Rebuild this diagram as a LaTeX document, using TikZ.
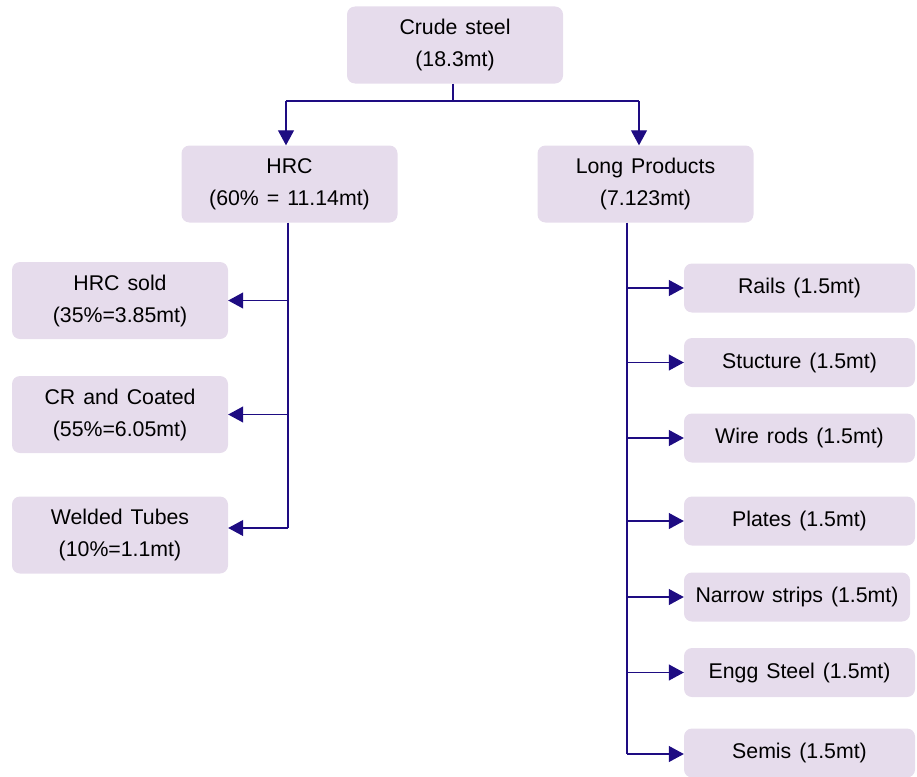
\documentclass[tikz,border=0pt]{standalone}
\usepackage{fontspec}
\setmainfont{Liberation Sans}[WordSpace=1.35]
\usetikzlibrary{arrows.meta}
\definecolor{boxfill}{HTML}{E6DCEC}
\definecolor{linec}{HTML}{1E0C82}
\begin{document}
\begin{tikzpicture}[x=1pt,y=-1pt,
  box/.style={fill=boxfill, rounded corners=8pt, align=center, inner sep=0pt,
    font=\fontsize{21.3}{32}\selectfont},
  bigbox/.style={box, minimum width=216pt, minimum height=77pt},
  smallbox/.style={box, minimum width=231pt, minimum height=49pt},
  conn/.style={draw=linec, line width=1.1pt},
  arr/.style={conn, -{Triangle[length=15pt,width=16pt]}}]
\useasboundingbox (0,0) rectangle (917,776);

\node[bigbox] (crude) at (455,45) {Crude steel\\(18.3mt)};
\node[bigbox] (hrc) at (289.5,184) {HRC\\(60\% = 11.14mt)};
\node[bigbox] (lp) at (645.5,184) {Long Products\\(7.123mt)};

\node[bigbox] (sold) at (120,300.5) {HRC sold\\(35\%=3.85mt)};
\node[bigbox] (cr) at (120,414.5) {CR and Coated\\(55\%=6.05mt)};
\node[bigbox] (tubes) at (120,535) {Welded Tubes\\(10\%=1.1mt)};

\node[smallbox] (rails) at (799.5,288) {Rails (1.5mt)};
\node[smallbox] (stuct) at (799.5,362.5) {Stucture (1.5mt)};
\node[smallbox] (wire) at (799.5,438) {Wire rods (1.5mt)};
\node[smallbox] (plates) at (799.5,521) {Plates (1.5mt)};
\node[smallbox, minimum width=226pt] (narrow) at (797,597) {Narrow strips (1.5mt)};
\node[smallbox] (engg) at (799.5,672.5) {Engg Steel (1.5mt)};
\node[smallbox] (semis) at (799.5,753) {Semis (1.5mt)};

% top split
\coordinate (jl) at (286,101);
\coordinate (jr) at (639,101);
\draw[conn] (crude.south -| 453,0) -- (453,101);
\draw[conn] (jl) -- (jr);
\draw[arr] (jl) -- (jl |- hrc.north);
\draw[arr] (jr) -- (jr |- lp.north);

% HRC branch
\coordinate (hv) at (288,528);
\draw[conn] (hrc.south -| hv) -- (hv);
\draw[arr] (sold.east -| hv) -- (sold.east);
\draw[arr] (cr.east -| hv) -- (cr.east);
\draw[arr] (hv) -- (hv -| tubes.east);

% Long products branch
\coordinate (lv) at (627,754);
\draw[conn] (lp.south -| lv) -- (lv);
\draw[arr] (rails.west -| lv) -- (rails.west);
\draw[arr] (stuct.west -| lv) -- (stuct.west);
\draw[arr] (wire.west -| lv) -- (wire.west);
\draw[arr] (plates.west -| lv) -- (plates.west);
\draw[arr] (narrow.west -| lv) -- (narrow.west);
\draw[arr] (engg.west -| lv) -- (engg.west);
\draw[arr] (lv) -- (lv -| semis.west);
\end{tikzpicture}
\end{document}
